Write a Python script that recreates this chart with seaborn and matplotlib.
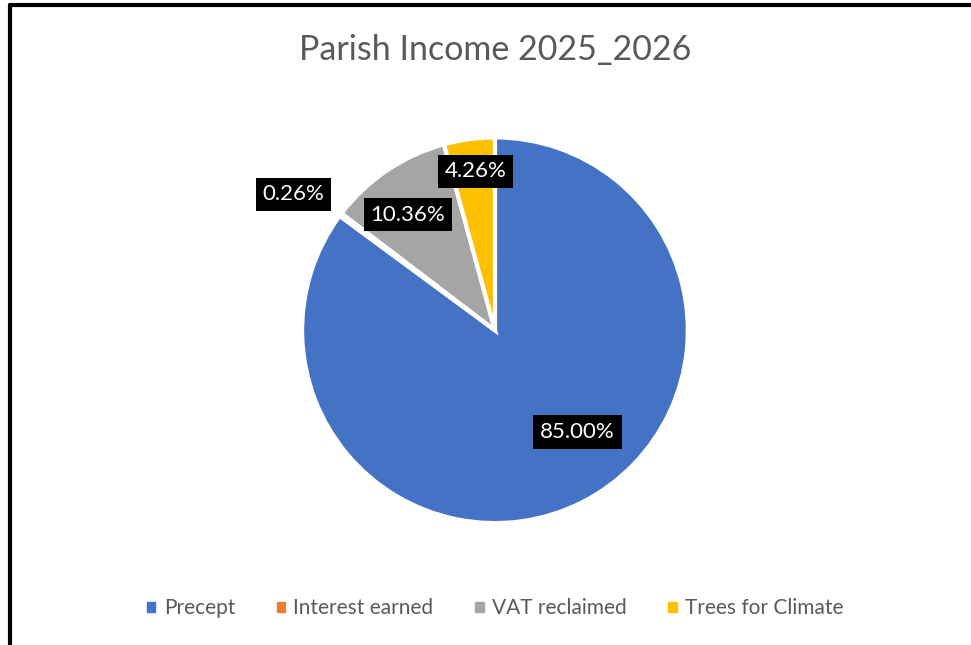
import matplotlib
matplotlib.use("Agg")
import matplotlib.pyplot as plt
import matplotlib.patches as mpatches
from matplotlib.lines import Line2D
import numpy as np
import seaborn as sns

categories = ["Precept", "Interest earned", "VAT reclaimed", "Trees for Climate"]
shares = [85.00, 0.26, 10.36, 4.26]
colors = ["#4472C4", "#ED7D31", "#A5A5A5", "#FFC000"]
title = "Parish Income 2025_2026"

# where Excel placed the data labels (radius factor, angle in degrees)
label_pos = [(0.68, -51), (1.26, 146), (0.75, 127), (0.83, 97)]

sns.set_theme(style="white")
plt.rcParams["font.family"] = ["Lato", "DejaVu Sans"]

fig = plt.figure(figsize=(9.71, 6.45), dpi=100)
fig.patch.set_facecolor("white")

# pie axes: square box centered where the reference pie sits
ax = fig.add_axes([0.311, 0.189, 0.3975, 0.598])
wedges, _ = ax.pie(shares, colors=colors, startangle=90, counterclock=False,
                   wedgeprops=dict(edgecolor="white", linewidth=3))
ax.set_xlim(-1, 1)
ax.set_ylim(-1, 1)
ax.set_aspect("equal")
ax.axis("off")

for v, (r, a) in zip(shares, label_pos):
    x, y = r * np.cos(np.radians(a)), r * np.sin(np.radians(a))
    ax.text(x, y, f"{v:.2f}%", ha="center", va="center", color="white",
            fontsize=16, clip_on=False,
            bbox=dict(boxstyle="square,pad=0.3", fc="black", ec="none"))

fig.text(0.51, 0.922, title, ha="center", va="center", fontsize=24.5, color="#595959")

handles = [mpatches.Patch(color=c, label=l) for c, l in zip(colors, categories)]
fig.legend(handles=handles, loc="center", bbox_to_anchor=(0.51, 0.057), ncol=4,
           frameon=False, fontsize=15, labelcolor="#595959", handlelength=0.4,
           handleheight=0.4, handletextpad=0.4, columnspacing=2.0)

# partial frame like the cropped screenshot (top and left border)
fig.add_artist(Line2D([0.0104, 1.0], [0.9922, 0.9922], color="black", lw=3,
                      transform=fig.transFigure))
fig.add_artist(Line2D([0.0098, 0.0098], [0.0, 0.9922], color="black", lw=3,
                      transform=fig.transFigure))

fig.savefig("out.png", dpi=100)
